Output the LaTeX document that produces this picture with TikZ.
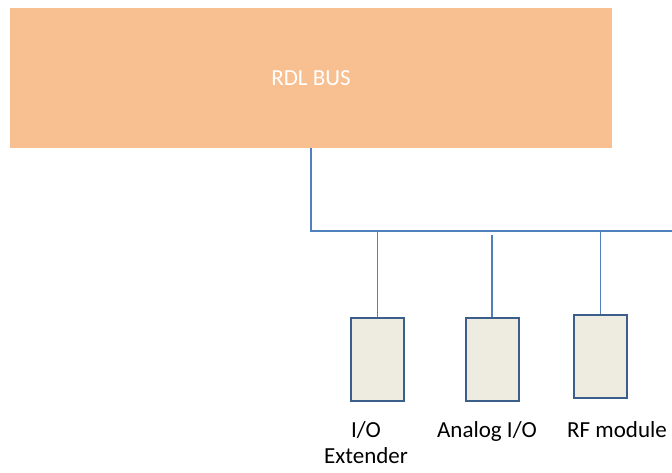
\documentclass[tikz,border=0pt]{standalone}
\usepackage{fontspec}
\setmainfont{Carlito}
\usetikzlibrary{positioning}
\definecolor{busorange}{HTML}{F8BF91}
\definecolor{linkblue}{HTML}{4F81BD}
\definecolor{modfill}{HTML}{EEECE1}
\definecolor{modedge}{HTML}{3B5E8A}

\begin{document}
\begin{tikzpicture}[
  x=1pt,y=-1pt,
  bus/.style={fill=busorange,draw=none,minimum width=602pt,minimum height=140pt,
              text=white,font=\fontsize{23}{26}\selectfont},
  module/.style={fill=modfill,draw=modedge,line width=2pt,
                 minimum width=53pt,minimum height=83pt},
  lbl/.style={anchor=north,align=center,inner sep=0pt,font=\fontsize{23}{26}\selectfont},
  wire/.style={linkblue,line width=1.6pt}
]
  \useasboundingbox (0,0) rectangle (672,472);
  \node[bus] (rdl) at (311,78) {RDL BUS};
  \coordinate (busend) at (672,231);
  \node[module] (io) at (377.5,359.5) {};
  \node[module] (analog) at (492,359.5) {};
  \node[module] (rf) at (600.5,356) {};
  \node[lbl] (iolbl) at (366,421) {I/O\\Extender};
  \node[lbl] (analoglbl) at (487,421) {Analog I/O};
  \node[lbl,anchor=north west] (rflbl) at (567,421) {RF module};
  \draw[wire] (rdl.south) |- (busend);
  \draw[wire] (io.north) -- (io.north |- busend);
  \draw[wire] (analog.north) -- ([yshift=-4pt]analog.north |- busend);
  \draw[wire] (rf.north) -- (rf.north |- busend);
\end{tikzpicture}
\end{document}
